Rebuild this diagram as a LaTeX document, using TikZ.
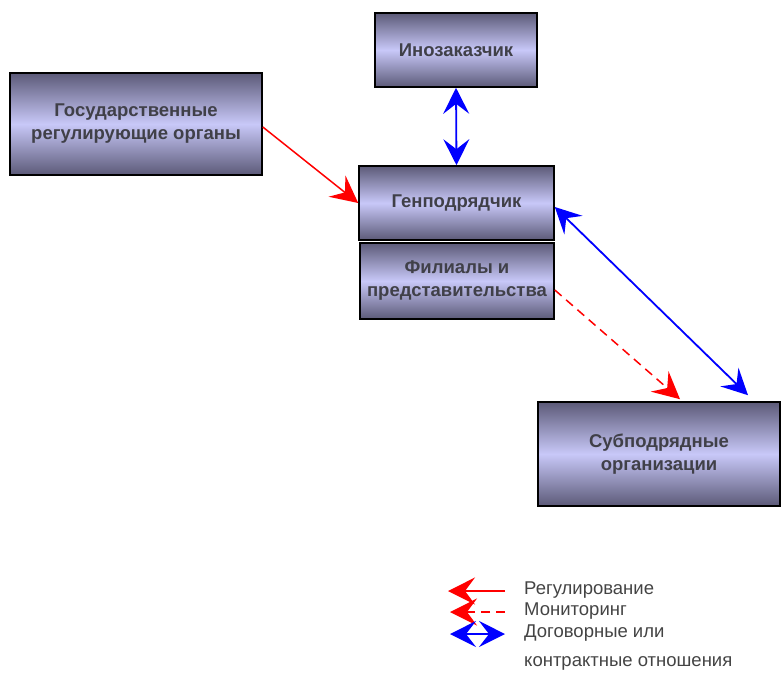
\documentclass[tikz,border=0pt]{standalone}
\usepackage{fontspec}
\setmainfont{Liberation Sans}
\usetikzlibrary{arrows.meta}
\definecolor{boxdark}{HTML}{5C5A78}
\definecolor{boxlight}{HTML}{C8C8F8}
\definecolor{txt}{HTML}{404048}
\definecolor{legtxt}{HTML}{444444}
\definecolor{myred}{HTML}{FF0000}
\definecolor{myblue}{HTML}{0000FF}
\begin{document}
\begin{tikzpicture}[x=1pt,y=-1pt,
  box/.style={draw=black, line width=1.6pt, top color=boxdark, bottom color=boxdark, middle color=boxlight,
    font=\bfseries\fontsize{18.5}{23}\selectfont, text=txt, align=center, inner sep=0pt},
  regarrow/.style={draw=myred, line width=1.5pt, -{Stealth[length=27pt,width=27pt,inset=10pt]}},
  monarrow/.style={draw=myred, line width=1.5pt, dash pattern=on 9pt off 6pt, -{Stealth[length=27pt,width=27pt,inset=10pt]}},
  dogarrow/.style={draw=myblue, line width=1.8pt, {Stealth[length=26pt,width=26pt,inset=10pt]}-{Stealth[length=26pt,width=26pt,inset=10pt]}},
  legtext/.style={anchor=west, inner sep=0pt, text=legtxt, font=\fontsize{18.5}{22}\selectfont}
]
\useasboundingbox (0,0) rectangle (781,673);

\node[box, minimum width=162pt, minimum height=74pt] (ino) at (456,50) {Инозаказчик};
\node[box, minimum width=252pt, minimum height=102pt] (gos) at (136,124) {Государственные\\регулирующие органы};
\node[box, minimum width=195pt, minimum height=74pt] (gen) at (456.5,203) {Генподрядчик};
\node[box, minimum width=194pt, minimum height=76pt] (fil) at (457,281) {Филиалы и\\представительства};
\node[box, minimum width=242pt, minimum height=104pt] (sub) at (659,454) {Субподрядные\\организации};

\draw[regarrow] ([yshift=-3pt]gos.east) -- (gen.west);
\draw[dogarrow] (ino.south) -- (gen.north);
\draw[dogarrow] ([yshift=-4pt]gen.east) -- ([xshift=89pt,yshift=6pt]sub.north);
\draw[monarrow] ([yshift=-9pt]fil.east) -- ([xshift=21pt,yshift=2pt]sub.north);

% legend
\coordinate (r1) at (505,591); \coordinate (r2) at (448,591);
\coordinate (m1) at (505,612); \coordinate (m2) at (450,612);
\coordinate (d1) at (450,634); \coordinate (d2) at (505,634);
\draw[regarrow] (r1) -- (r2);
\draw[monarrow] (m1) -- (m2);
\draw[dogarrow] (d1) -- (d2);
\node[legtext] (lr) at (524,590) {Регулирование};
\node[legtext] (lm) at (524,611) {Мониторинг};
\node[legtext] (ld1) at (524,633) {Договорные или};
\node[legtext] (ld2) at (524,663) {контрактные отношения};
\end{tikzpicture}
\end{document}
